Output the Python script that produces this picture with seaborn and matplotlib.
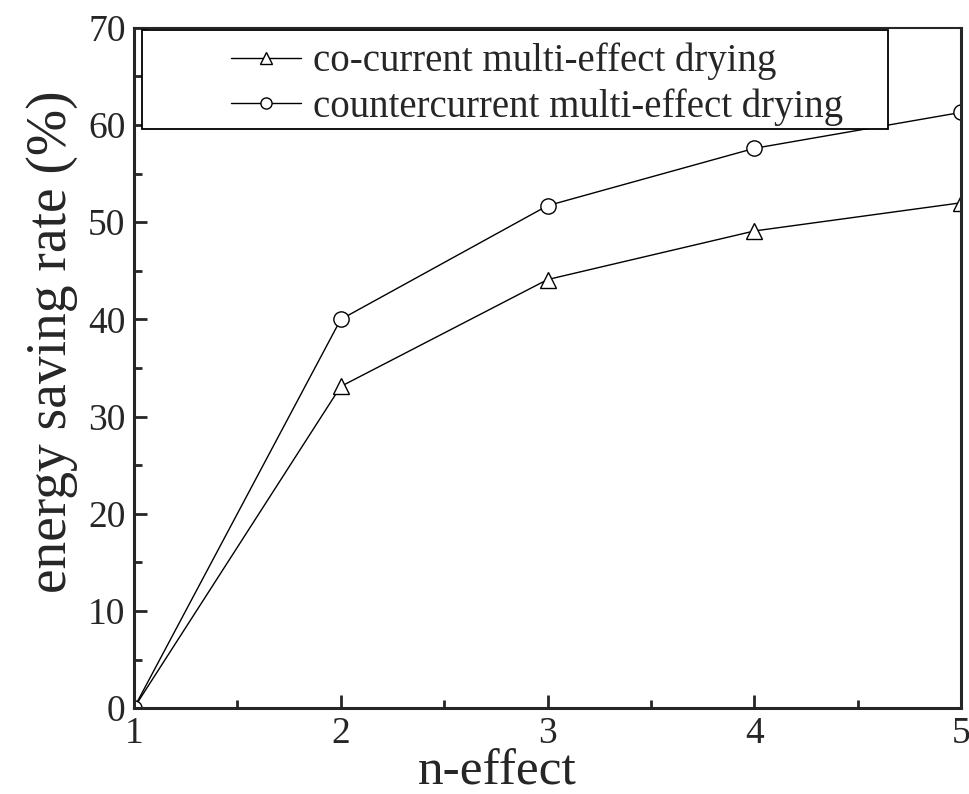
import matplotlib
matplotlib.use("Agg")
import matplotlib.pyplot as plt
import seaborn as sns
import pandas as pd
from matplotlib.ticker import MultipleLocator
from matplotlib.patches import Rectangle

### Data ###
n_effect = [1, 2, 3, 4, 5]
co_current = [0, 33.1, 44.1, 49.1, 52.0]
counter_current = [0, 40.0, 51.7, 57.6, 61.3]
labels = ["co-current multi-effect drying", "countercurrent multi-effect drying"]

df = pd.DataFrame({
    "n": n_effect * 2,
    "rate": co_current + counter_current,
    "series": [labels[0]] * 5 + [labels[1]] * 5,
})

sns.set_style("ticks")
plt.rcParams["font.family"] = ["Liberation Serif", "DejaVu Serif"]

fig = plt.figure(figsize=(9.7, 7.94), dpi=100)
ax = fig.add_axes([0.138, 0.108, 0.853, 0.857])

ax = sns.lineplot(data=df, x="n", y="rate", hue="series", style="series",
                  markers={labels[0]: "^", labels[1]: "o"}, dashes=False,
                  palette={labels[0]: "black", labels[1]: "black"},
                  linewidth=1.0, markersize=12, markerfacecolor="white",
                  markeredgecolor="black", markeredgewidth=1.0, ax=ax)
ax.lines[1].set_markersize(11)

ax.set_xlim(1, 5)
ax.set_ylim(0, 70)
ax.xaxis.set_major_locator(MultipleLocator(1))
ax.xaxis.set_minor_locator(MultipleLocator(0.5))
ax.yaxis.set_major_locator(MultipleLocator(10))
ax.yaxis.set_minor_locator(MultipleLocator(5))
ax.tick_params(which="both", direction="in", top=False, right=False, labelsize=27, width=2)
ax.tick_params(axis="x", pad=6)
ax.tick_params(axis="y", pad=6)
ax.tick_params(which="major", length=9.5)
ax.tick_params(which="minor", length=6)
for side in ["left", "bottom", "right"]:
    ax.spines[side].set_linewidth(2.2)
ax.spines["top"].set_linewidth(1.5)

ax.set_xlabel("n-effect", fontsize=37)
ax.xaxis.set_label_coords(0.439, -0.06)
ax.set_ylabel("energy saving rate (%)", fontsize=40)
ax.yaxis.set_label_coords(-0.068, 0.538)

# legend frame drawn as a box so the entries can sit inset like the original
ax.add_patch(Rectangle((0.0097, 0.851), 0.902, 0.146, transform=ax.transAxes,
                       facecolor="white", edgecolor="black", linewidth=1.3, zorder=4))
handles, _ = ax.get_legend_handles_labels()
for h in handles:
    h.set_markersize(8)
leg = ax.legend(handles, labels, loc="upper left", bbox_to_anchor=(0.118, 0.978),
                fontsize=28, frameon=False, borderpad=0, labelspacing=0.2,
                handlelength=1.8, handletextpad=0.3, borderaxespad=0)
leg.set_zorder(5)

plt.savefig("out.png", dpi=100)
